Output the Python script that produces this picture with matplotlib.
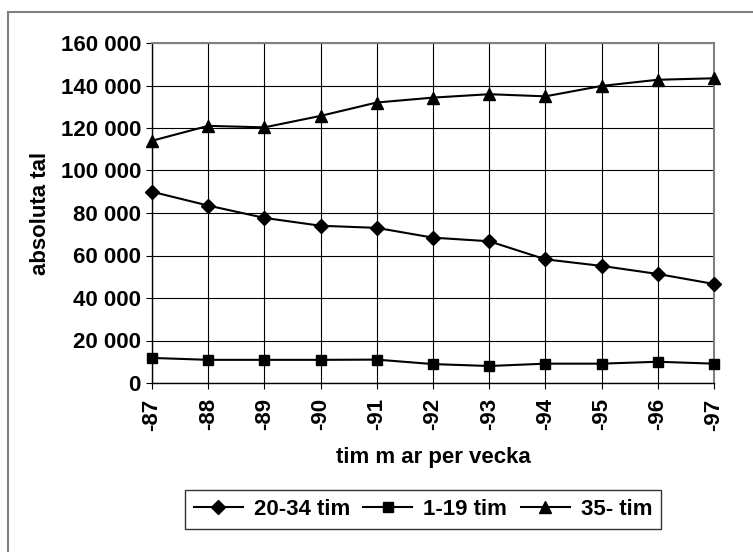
import matplotlib
matplotlib.use("Agg")
import matplotlib.pyplot as plt
from matplotlib.patches import Rectangle
from matplotlib.ticker import FuncFormatter

plt.rcParams["font.family"] = ["Liberation Sans", "DejaVu Sans"]
plt.rcParams["font.weight"] = "bold"

years = ["-87", "-88", "-89", "-90", "-91", "-92", "-93", "-94", "-95", "-96", "-97"]
hours_20_34 = [90000, 83500, 77700, 74000, 73000, 68400, 66700, 58200, 55100, 51300, 46600]
hours_1_19 = [11800, 10900, 10900, 10900, 11000, 8900, 8000, 9100, 9100, 10000, 9100]
hours_35 = [114000, 121000, 120300, 125700, 132000, 134300, 135900, 134900, 139800, 142700, 143400]

W, H = 753, 552
fig = plt.figure(figsize=(W / 100, H / 100), dpi=100)
ax = fig.add_axes([152 / W, 1 - 383 / H, (714 - 152) / W, (383 - 43) / H])

x = list(range(len(years)))
series = [
    (hours_20_34, "D", 7.5, "20-34 tim"),
    (hours_1_19, "s", 7.5, "1-19 tim"),
    (hours_35, "^", 9, "35- tim"),
]
for values, marker, ms, label in series:
    ax.plot(x, values, color="black", lw=1.5, marker=marker, ms=ms,
            markerfacecolor="black", markeredgecolor="black",
            label=label, clip_on=False, zorder=3)

ax.set_xlim(0, len(years) - 1)
ax.set_ylim(0, 160000)
ax.set_yticks(range(0, 160001, 20000))
ax.yaxis.set_major_formatter(FuncFormatter(lambda v, p: f"{int(v):,}".replace(",", " ")))
ax.set_xticks(x)
ax.set_xticklabels(years, rotation=90)
ax.grid(True, color="black", lw=0.8)
ax.set_axisbelow(True)
ax.tick_params(axis="both", labelsize=16, length=4, width=0.8, color="black")
ax.tick_params(axis="y", pad=4)
ax.tick_params(axis="x", pad=7)
for s in ("top", "right"):
    ax.spines[s].set_color("#808080")
    ax.spines[s].set_linewidth(1.5)
for s in ("left", "bottom"):
    ax.spines[s].set_color("black")
    ax.spines[s].set_linewidth(1.0)

ax.set_xlabel("tim m ar per vecka", fontsize=16, fontweight="bold", labelpad=12)
ax.set_ylabel("absoluta tal", fontsize=16, fontweight="bold", labelpad=7)

leg = fig.legend(loc="center", bbox_to_anchor=(423 / W, 1 - 509.5 / H), ncol=3,
                 fontsize=16, frameon=True, fancybox=False, handlelength=2.2,
                 columnspacing=0.6, handletextpad=0.5, borderpad=0.4)
leg.get_frame().set_edgecolor("black")
leg.get_frame().set_linewidth(1.0)

fig.patches.append(Rectangle((8 / W, -0.1), 1.2, 1 - 12 / H + 0.1, transform=fig.transFigure,
                             fill=False, edgecolor="#808080", lw=1.5))

fig.savefig("out.png", dpi=100)
